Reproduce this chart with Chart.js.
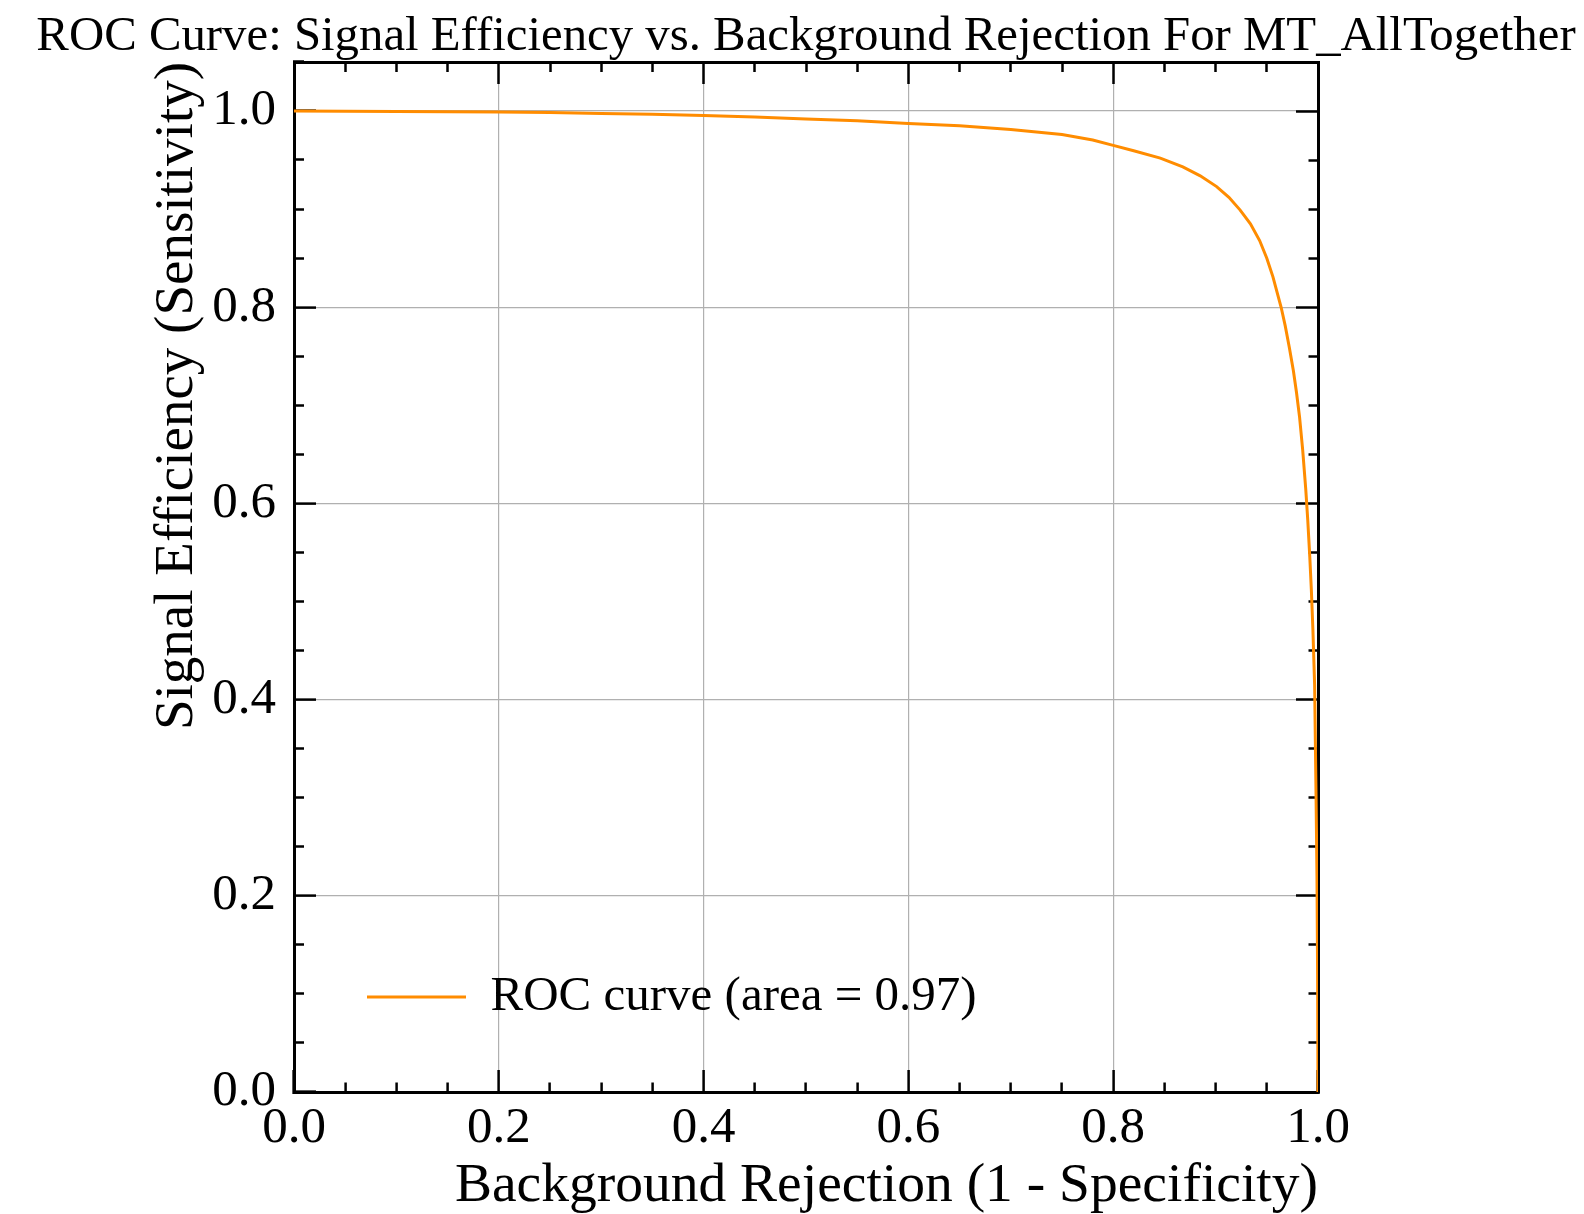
<!DOCTYPE html>
<html>
<head>
<meta charset="utf-8">
<script src="https://cdn.jsdelivr.net/npm/chart.js@4.4.0/dist/chart.umd.min.js"></script>
<style>
	html, body { margin: 0; padding: 0; background: #fff; }
</style>
</head>
<body>
<canvas id="roc-cvs" width="1584" height="1214"></canvas>
<script>
// values
var bgRejection = [0.000, 0.050, 0.100, 0.150, 0.200, 0.250, 0.300, 0.350, 0.400, 0.450,
	0.500, 0.550, 0.600, 0.650, 0.700, 0.750, 0.780, 0.800, 0.820, 0.846,
	0.868, 0.885, 0.901, 0.913, 0.924, 0.934, 0.943, 0.950, 0.956, 0.964,
	0.968, 0.972, 0.976, 0.979, 0.982, 0.985, 0.988, 0.990, 0.992, 0.9935,
	0.995, 0.9967, 0.998, 0.999, 0.9996, 1.000];
var sigEfficiency = [1.000, 0.9998, 0.9996, 0.9993, 0.9990, 0.9984, 0.9976, 0.9967, 0.9955, 0.9940,
	0.9920, 0.9900, 0.9872, 0.9850, 0.9812, 0.9760, 0.9705, 0.9650, 0.9595, 0.9520,
	0.9430, 0.9340, 0.9230, 0.9120, 0.8990, 0.8850, 0.8680, 0.8500, 0.8310, 0.8000,
	0.7810, 0.7590, 0.7350, 0.7130, 0.6880, 0.6550, 0.6150, 0.5830, 0.5450, 0.5120,
	0.4720, 0.4150, 0.3100, 0.2200, 0.1200, 0.0000];
var majorTicks = [0.0, 0.2, 0.4, 0.6, 0.8, 1.0];
var curveLabel = "ROC curve (area = 0.97)";
var titleText = "ROC Curve: Signal Efficiency vs. Background Rejection For MT_AllTogether";

var SERIF = "'Liberation Serif', 'Times New Roman', serif";

function isMajor(v) {
	for (let m of majorTicks) {
		if (Math.abs(v - m) < 1e-6) return true;
	}
	return false;
}
function tickLabel(v) {
	return isMajor(v) ? v.toFixed(1) : "";
}
// minor ticks are half length: dash the tick line, keep the part next to the frame
function dashFromFrame(ctx) {
	return isMajor(ctx.tick.value) ? [] : [11.5, 60];
}
function dashFromInside(ctx) {
	return isMajor(ctx.tick.value) ? [] : [0, 12, 60];
}

var points = [];
for (let i in bgRejection) {
	points.push({x: bgRejection[i], y: sigEfficiency[i]});
}

var frame = {color: "#000", width: 3};

function axisTicks(extra) {
	return Object.assign({
		stepSize: 0.05,
		autoSkip: false,
		maxRotation: 0,
		minRotation: 0,
		color: "#000",
		font: {family: SERIF, size: 51},
		callback: tickLabel
	}, extra);
}

var config = {
	type: "line",
	data: {
		datasets: [{
			label: curveLabel,
			data: points,
			borderColor: "#ff8c00",
			backgroundColor: "#ff8c00",
			borderWidth: 3,
			pointRadius: 0,
			tension: 0,
			fill: false
		}]
	},
	options: {
		responsive: false,
		animation: false,
		layout: {padding: {left: 28, right: 0, top: 0, bottom: 0}},
		plugins: {
			title: {
				display: true,
				text: titleText,
				color: "#000",
				font: {family: SERIF, size: 48.8, weight: "normal", lineHeight: 1},
				padding: {top: 13.2, bottom: 0}
			},
			legend: {
				position: "chartArea",
				align: "start",
				// empty legend title only pushes the entry down to the lower left
				title: {
					display: true,
					text: "",
					font: {size: 10, lineHeight: 1},
					padding: {top: 889.5, bottom: 0}
				},
				labels: {
					boxWidth: 99,
					boxHeight: 0,
					color: "#000",
					font: {family: SERIF, size: 49},
					padding: 73
				}
			},
			tooltip: {enabled: false}
		},
		scales: {
			x: {
				type: "linear",
				position: "bottom",
				min: 0,
				max: 1,
				afterFit: function(s) { s.height = 122; },
				border: frame,
				grid: {
					color: function(ctx) {
						let v = ctx.tick.value;
						return (isMajor(v) && v > 0 && v < 1) ? "#b0b0b0" : "rgba(0,0,0,0)";
					},
					lineWidth: 1.2,
					tickLength: -22,
					tickColor: "#000",
					tickWidth: 2.5,
					tickBorderDash: dashFromFrame
				},
				ticks: axisTicks({padding: 28}),
				title: {
					display: true,
					text: "Background Rejection (1 - Specificity)",
					align: "end",
					color: "#000",
					font: {family: SERIF, size: 55.5, lineHeight: 1},
					padding: {top: 0, bottom: 0}
				}
			},
			x2: {
				type: "linear",
				position: "top",
				min: 0,
				max: 1,
				afterFit: function(s) { s.height = 0; },
				border: frame,
				grid: {
					drawOnChartArea: false,
					tickLength: -22,
					tickColor: "#000",
					tickWidth: 2.5,
					tickBorderDash: dashFromInside
				},
				ticks: axisTicks({display: false})
			},
			y: {
				type: "linear",
				position: "left",
				min: 0,
				max: 1.05,
				afterFit: function(s) {
					s.width = 266;
					// the label padding must not push the plot top down
					s.paddingTop = 0;
					s.paddingBottom = 0;
				},
				border: frame,
				grid: {
					color: function(ctx) {
						let v = ctx.tick.value;
						return (isMajor(v) && v > 0) ? "#b0b0b0" : "rgba(0,0,0,0)";
					},
					lineWidth: 1.2,
					tickLength: -22,
					tickColor: "#000",
					tickWidth: 2.5,
					tickBorderDash: dashFromInside
				},
				ticks: axisTicks({padding: 40}),
				title: {
					display: true,
					text: "Signal Efficiency (Sensitivity)",
					align: "end",
					color: "#000",
					font: {family: SERIF, size: 55, lineHeight: 1},
					padding: {top: 122.5, bottom: 0}
				}
			},
			y2: {
				type: "linear",
				position: "right",
				min: 0,
				max: 1.05,
				afterFit: function(s) { s.width = 266; },
				border: frame,
				grid: {
					drawOnChartArea: false,
					tickLength: -22,
					tickColor: "#000",
					tickWidth: 2.5,
					tickBorderDash: dashFromFrame
				},
				ticks: axisTicks({display: false})
			}
		}
	}
};

var roc = new Chart("roc-cvs", config);
</script>
</body>
</html>
